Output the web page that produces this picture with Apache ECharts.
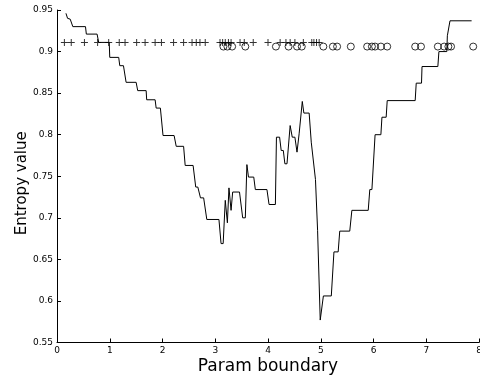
<!DOCTYPE html>
<html>
<head>
<meta charset="utf-8">
<script src="https://cdn.jsdelivr.net/npm/echarts@6/dist/echarts.min.js"></script>
<style>html,body{margin:0;padding:0;background:#fff}#c{width:480px;height:378px}</style>
</head>
<body>
<div id="c"></div>
<script>
// Step-like entropy curve: x (param boundary), y (entropy value)
var lineX = [0.17,0.20,0.25,0.30,0.54,0.556,0.76,0.79,0.99,1.00,1.17,1.19,1.26,1.31,1.50,1.53,1.69,1.70,1.86,1.88,1.96,2.01,2.22,2.26,2.40,2.43,2.58,2.63,2.67,2.72,2.78,2.84,3.07,3.11,3.15,3.19,3.23,3.26,3.30,3.33,3.46,3.52,3.57,3.60,3.63,3.73,3.76,3.98,4.02,4.14,4.16,4.22,4.25,4.29,4.32,4.36,4.42,4.46,4.51,4.55,4.59,4.61,4.65,4.68,4.78,4.82,4.85,4.90,4.94,4.99,5.05,5.20,5.25,5.33,5.36,5.55,5.59,5.90,5.93,5.97,6.03,6.14,6.16,6.24,6.26,6.79,6.81,6.91,6.92,7.22,7.24,7.39,7.40,7.43,7.45,7.86];
var lineY = [0.946,0.940,0.939,0.930,0.930,0.921,0.921,0.911,0.911,0.893,0.893,0.883,0.883,0.863,0.863,0.853,0.853,0.842,0.842,0.832,0.832,0.799,0.799,0.786,0.786,0.763,0.763,0.737,0.737,0.724,0.724,0.698,0.698,0.669,0.669,0.721,0.694,0.736,0.709,0.731,0.731,0.700,0.700,0.764,0.749,0.749,0.734,0.734,0.716,0.716,0.797,0.797,0.781,0.781,0.765,0.765,0.811,0.797,0.797,0.779,0.801,0.801,0.840,0.826,0.826,0.791,0.791,0.746,0.685,0.577,0.606,0.606,0.659,0.659,0.684,0.684,0.709,0.709,0.734,0.734,0.800,0.800,0.821,0.821,0.841,0.841,0.862,0.862,0.882,0.882,0.900,0.900,0.919,0.919,0.937,0.937];
// '+' markers
var plusX = [0.14,0.27,0.52,0.77,0.98,1.18,1.29,1.51,1.67,1.86,1.98,2.21,2.40,2.56,2.64,2.71,2.81,3.09,3.14,3.19,3.25,3.30,3.47,3.55,3.72,4.00,4.23,4.34,4.42,4.51,4.67,4.83,4.87,4.92,4.97];
var plusLevel = 0.911;
// 'o' markers
var circX = [3.155,3.23,3.32,3.57,4.15,4.39,4.55,4.64,5.05,5.23,5.31,5.57,5.88,5.97,6.03,6.14,6.26,6.79,6.90,7.22,7.34,7.42,7.47,7.89];
var circLevel = 0.906;
var xTicks = [0,1,2,3,4,5,6,7,8];
var yTicks = [0.55,0.6,0.65,0.7,0.75,0.8,0.85,0.9,0.95];

var FONT = 'DejaVu Sans';
var chart = echarts.init(document.getElementById('c'), null, {renderer:'canvas'});
chart.setOption({
  animation:false,
  backgroundColor:'#fff',
  grid:{left:57, right:1, top:10, bottom:35.5, containLabel:false, outerBoundsMode:'none'},
  xAxis:{
    type:'value', min:xTicks[0], max:xTicks[xTicks.length-1], interval:1,
    name:'Param boundary', nameLocation:'middle', nameGap:16, nameMoveOverlap:false,
    nameTextStyle:{fontFamily:FONT, fontSize:17, color:'#000', verticalAlign:'top'},
    axisLine:{show:true, lineStyle:{color:'#000', width:1}},
    axisTick:{show:true, inside:true, length:4, lineStyle:{color:'#000'}},
    axisLabel:{fontFamily:FONT, fontSize:9, color:'#000', margin:4, showMaxLabel:true, showMinLabel:true},
    splitLine:{show:false}
  },
  yAxis:{
    type:'value', min:yTicks[0], max:yTicks[yTicks.length-1], interval:0.05,
    name:'Entropy value', nameLocation:'middle', nameGap:27, nameMoveOverlap:false,
    nameTextStyle:{fontFamily:FONT, fontSize:15, color:'#000', padding:[0,14,0,0]},
    axisLine:{show:true, lineStyle:{color:'#000', width:1}},
    axisTick:{show:true, inside:true, length:4, lineStyle:{color:'#000'}},
    axisLabel:{fontFamily:FONT, fontSize:9, color:'#000', margin:4,
      formatter:function(v){return String(+v.toFixed(2));}},
    splitLine:{show:false}
  },
  series:[
    {type:'line', data:lineX.map(function(x,i){return [x,lineY[i]];}), showSymbol:false, symbol:'none',
     lineStyle:{color:'#000', width:1}, z:3},
    {type:'scatter', data:plusX.map(function(x){return [x,plusLevel];}),
     symbol:'path://M3,0H4V3H7V4H4V7H3V4H0V3H3Z', symbolSize:7,
     itemStyle:{color:'#000'}, z:4},
    {type:'scatter', data:circX.map(function(x){return [x,circLevel];}),
     symbol:'circle', symbolSize:7,
     itemStyle:{color:'rgba(0,0,0,0)', borderColor:'#000', borderWidth:1}, z:4}
  ]
});
</script>
</body>
</html>
